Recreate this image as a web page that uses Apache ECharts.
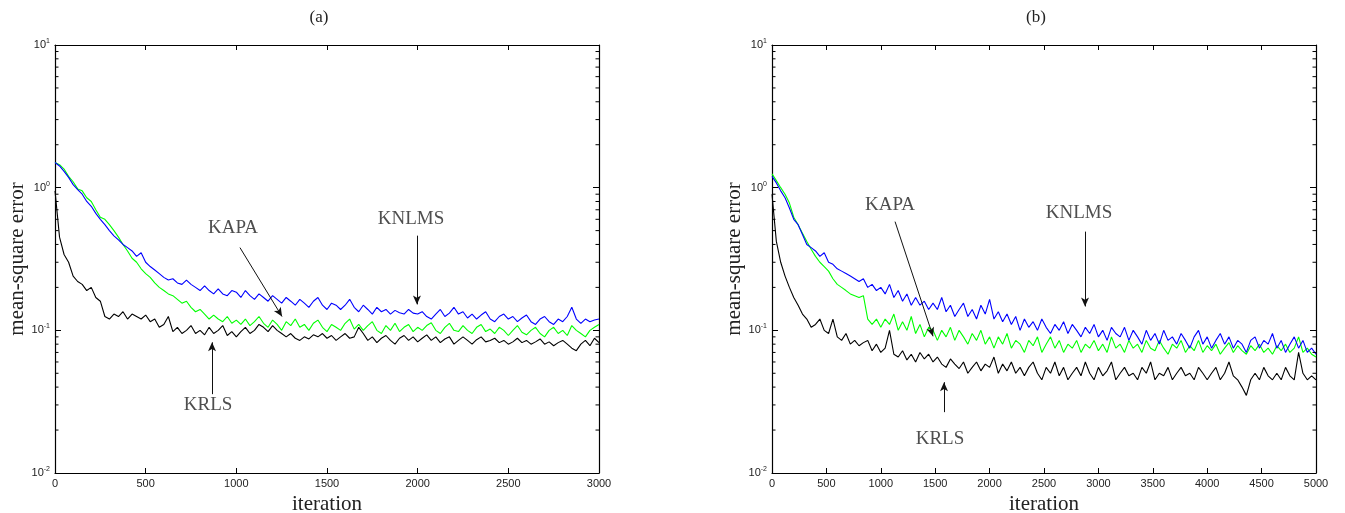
<!DOCTYPE html>
<html>
<head>
<meta charset="utf-8">
<script src="https://cdn.jsdelivr.net/npm/echarts@6/dist/echarts.min.js"></script>
<style>html,body{margin:0;padding:0;background:#fff}#c{width:1345px;height:513px}</style>
</head>
<body>
<div id="c"></div>
<script>
// ---------- data ----------
const STEP_A = 25;   // iteration spacing of samples, panel (a)
const STEP_B = 40;   // iteration spacing of samples, panel (b)
const X_TICKS_A = [0, 500, 1000, 1500, 2000, 2500, 3000];
const X_TICKS_B = [0, 500, 1000, 1500, 2000, 2500, 3000, 3500, 4000, 4500, 5000];
const Y_TICKS = [0.01, 0.1, 1, 10];
const MINOR_TICKS = [0.02,0.03,0.04,0.05,0.06,0.07,0.08,0.09,0.2,0.3,0.4,0.5,0.6,0.7,0.8,0.9,2,3,4,5,6,7,8,9];

const A_KNLMS = [
1.5,1.42,1.3,1.18,1.05,0.97,0.9,0.8,0.74,0.66,
0.6,0.55,0.5,0.46,0.43,0.4,0.38,0.36,0.33,0.35,
0.3,0.28,0.265,0.25,0.235,0.225,0.23,0.215,0.21,0.225,
0.21,0.2,0.19,0.205,0.19,0.18,0.195,0.18,0.175,0.19,
0.185,0.17,0.19,0.175,0.165,0.18,0.17,0.16,0.175,0.165,
0.155,0.17,0.16,0.15,0.165,0.155,0.145,0.16,0.17,0.15,
0.14,0.155,0.15,0.14,0.15,0.165,0.145,0.135,0.15,0.14,
0.13,0.145,0.135,0.14,0.13,0.138,0.133,0.13,0.14,0.132,
0.13,0.135,0.125,0.12,0.13,0.14,0.125,0.132,0.145,0.13,
0.135,0.122,0.13,0.12,0.128,0.135,0.12,0.115,0.125,0.13,
0.12,0.125,0.115,0.122,0.128,0.115,0.11,0.12,0.125,0.115,
0.11,0.12,0.115,0.125,0.145,0.12,0.112,0.12,0.115,0.118,
0.12];
const A_KAPA = [
1.5,1.45,1.35,1.2,1.1,0.98,0.95,0.85,0.8,0.7,
0.62,0.6,0.55,0.5,0.45,0.4,0.36,0.32,0.3,0.27,
0.25,0.235,0.215,0.2,0.19,0.18,0.175,0.165,0.155,0.16,
0.145,0.135,0.14,0.13,0.12,0.128,0.12,0.115,0.125,0.112,
0.118,0.11,0.12,0.108,0.115,0.125,0.112,0.105,0.118,0.11,
0.1,0.115,0.108,0.12,0.105,0.11,0.1,0.112,0.118,0.105,
0.098,0.11,0.105,0.1,0.112,0.12,0.102,0.11,0.1,0.108,
0.115,0.1,0.095,0.108,0.1,0.112,0.098,0.105,0.11,0.098,
0.105,0.1,0.108,0.113,0.1,0.095,0.105,0.112,0.1,0.098,
0.108,0.1,0.095,0.105,0.11,0.098,0.102,0.095,0.105,0.1,
0.092,0.1,0.108,0.097,0.093,0.1,0.105,0.095,0.09,0.1,
0.105,0.095,0.1,0.092,0.108,0.1,0.095,0.09,0.1,0.105,
0.11];
const A_KRLS = [
0.95,0.45,0.34,0.3,0.24,0.22,0.21,0.19,0.2,0.17,
0.16,0.125,0.12,0.13,0.125,0.135,0.12,0.13,0.125,0.12,
0.128,0.115,0.12,0.105,0.11,0.125,0.098,0.105,0.095,0.1,
0.108,0.095,0.1,0.093,0.105,0.095,0.1,0.108,0.092,0.098,
0.09,0.098,0.105,0.095,0.1,0.11,0.105,0.098,0.108,0.1,
0.095,0.09,0.095,0.088,0.085,0.09,0.087,0.093,0.09,0.095,
0.088,0.092,0.085,0.09,0.095,0.088,0.09,0.105,0.095,0.085,
0.09,0.082,0.088,0.092,0.085,0.08,0.088,0.092,0.085,0.09,
0.083,0.088,0.093,0.085,0.09,0.082,0.087,0.09,0.08,0.085,
0.09,0.085,0.08,0.086,0.09,0.083,0.085,0.088,0.082,0.085,
0.08,0.083,0.088,0.082,0.085,0.08,0.083,0.087,0.08,0.083,
0.078,0.082,0.085,0.08,0.075,0.072,0.08,0.085,0.078,0.088,
0.082];

const B_KNLMS = [
1.2,1.08,0.95,0.85,0.72,0.6,0.55,0.47,0.4,0.38,
0.36,0.33,0.35,0.3,0.29,0.27,0.26,0.25,0.24,0.23,
0.22,0.23,0.2,0.21,0.19,0.2,0.18,0.21,0.17,0.19,
0.16,0.18,0.15,0.17,0.15,0.16,0.14,0.155,0.14,0.17,
0.135,0.15,0.125,0.14,0.155,0.125,0.14,0.12,0.15,0.13,
0.165,0.12,0.135,0.115,0.13,0.11,0.125,0.1,0.12,0.105,
0.115,0.1,0.12,0.105,0.095,0.11,0.1,0.115,0.095,0.11,
0.1,0.09,0.105,0.095,0.11,0.09,0.1,0.085,0.105,0.095,
0.09,0.105,0.085,0.1,0.09,0.08,0.1,0.085,0.095,0.08,
0.1,0.085,0.09,0.08,0.095,0.085,0.075,0.09,0.1,0.08,
0.09,0.075,0.085,0.095,0.08,0.09,0.075,0.085,0.08,0.07,
0.085,0.09,0.075,0.085,0.08,0.095,0.075,0.085,0.07,0.08,
0.09,0.075,0.085,0.07,0.075,0.068];
const B_KAPA = [
1.25,1.12,1.0,0.9,0.78,0.62,0.55,0.48,0.42,0.37,
0.33,0.3,0.28,0.26,0.23,0.21,0.2,0.19,0.18,0.175,
0.17,0.175,0.12,0.11,0.12,0.105,0.12,0.11,0.13,0.1,
0.115,0.1,0.125,0.095,0.11,0.09,0.105,0.1,0.085,0.1,
0.09,0.105,0.085,0.1,0.09,0.08,0.095,0.085,0.1,0.08,
0.09,0.075,0.09,0.08,0.095,0.075,0.085,0.08,0.07,0.085,
0.078,0.09,0.07,0.08,0.09,0.075,0.085,0.07,0.08,0.075,
0.085,0.07,0.08,0.075,0.085,0.072,0.08,0.07,0.09,0.075,
0.08,0.07,0.085,0.075,0.08,0.07,0.085,0.075,0.072,0.085,
0.075,0.068,0.08,0.075,0.085,0.07,0.078,0.072,0.085,0.07,
0.078,0.072,0.08,0.068,0.075,0.082,0.07,0.078,0.072,0.068,
0.078,0.072,0.08,0.07,0.075,0.068,0.078,0.072,0.08,0.07,
0.075,0.09,0.07,0.075,0.068,0.065];
const B_KRLS = [
0.9,0.42,0.3,0.24,0.2,0.17,0.15,0.13,0.12,0.105,
0.11,0.12,0.1,0.095,0.12,0.09,0.085,0.095,0.08,0.085,
0.078,0.082,0.085,0.072,0.08,0.07,0.075,0.1,0.068,0.065,
0.072,0.062,0.068,0.06,0.07,0.063,0.068,0.06,0.065,0.058,
0.055,0.063,0.058,0.054,0.06,0.05,0.055,0.06,0.052,0.058,
0.055,0.065,0.05,0.058,0.052,0.06,0.05,0.055,0.048,0.055,
0.06,0.05,0.045,0.055,0.05,0.06,0.048,0.055,0.045,0.05,
0.055,0.048,0.06,0.05,0.045,0.055,0.048,0.052,0.06,0.045,
0.05,0.055,0.048,0.05,0.045,0.055,0.05,0.06,0.045,0.05,
0.048,0.055,0.045,0.05,0.055,0.048,0.05,0.045,0.055,0.05,
0.045,0.05,0.055,0.045,0.05,0.06,0.048,0.045,0.04,0.035,
0.045,0.05,0.045,0.055,0.048,0.045,0.05,0.045,0.055,0.048,
0.045,0.07,0.05,0.045,0.048,0.045];

// annotations (data coordinates): label position, arrow start, arrow end
const ANNOT_A = [
  {name:'KAPA',  at:[982, 0.525], from:[1020, 0.38], to:[1252, 0.125]},
  {name:'KNLMS', at:[1963, 0.607], from:[1996, 0.461], to:[1996, 0.152]},
  {name:'KRLS',  at:[844, 0.0299], from:[866, 0.0357], to:[866, 0.0824]}
];
const ANNOT_B = [
  {name:'KAPA',  at:[1085, 0.76], from:[1131, 0.578], to:[1480, 0.0908]},
  {name:'KNLMS', at:[2822, 0.668], from:[2877, 0.492], to:[2877, 0.147]},
  {name:'KRLS',  at:[1544, 0.0173], from:[1581, 0.0267], to:[1581, 0.0433]}
];

// ---------- chart ----------
const SERIF = '"Liberation Serif", "Times New Roman", serif';
const SANS = '"Liberation Sans", Arial, Helvetica, sans-serif';

function pairs(arr, step){ return arr.map((v,i)=>[i*step, v]); }

function xAxes(gridIndex, max, ticks){
  const common = {
    type:'value', gridIndex, min:0, max, interval: ticks[1]-ticks[0],
    splitLine:{show:false},
    axisLine:{show:true, onZero:false, lineStyle:{color:'#000', width:1.2}},
    axisTick:{show:true, inside:true, length:5, lineStyle:{color:'#000'}}
  };
  return [
    Object.assign({}, common, {position:'bottom',
      name:'iteration', nameLocation:'middle', nameGap:19,
      nameTextStyle:{fontFamily:SERIF, fontSize:21, color:'#222'},
      axisLabel:{show:true, fontFamily:SANS, fontSize:11, color:'#222', margin:5,
        formatter: v => String(v)}}),
    Object.assign({}, common, {position:'top', axisLabel:{show:false}})
  ];
}
function yAxes(gridIndex){
  const common = {
    type:'log', logBase:10, gridIndex, min:0.01, max:10,
    splitLine:{show:false}, minorTick:{show:false},
    axisLine:{show:true, onZero:false, lineStyle:{color:'#000', width:1.2}},
    axisTick:{show:true, inside:true, length:6, lineStyle:{color:'#000'}}
  };
  return [
    Object.assign({}, common, {position:'left',
      name:'mean-square error', nameLocation:'middle', nameGap:25, nameRotate:90,
      nameTextStyle:{fontFamily:SERIF, fontSize:21, color:'#222'},
      axisLabel:{show:true, margin:5,
        formatter: v => '{b|10}{s|' + Math.round(Math.log10(v)) + '}',
        rich:{b:{fontFamily:SANS, fontSize:11, color:'#222'},
              s:{fontFamily:SANS, fontSize:7, color:'#222', padding:[0,0,8,0]}}}}),
    Object.assign({}, common, {position:'right', axisLabel:{show:false}})
  ];
}

function minorTickSeries(xi, yi){
  return {
    type:'custom', xAxisIndex:xi, yAxisIndex:yi, silent:true, clip:false, z:5,
    data: MINOR_TICKS.map(v => [0, v]),
    renderItem: (params, api) => {
      const p = api.coord([api.value(0), api.value(1)]);
      const cs = params.coordSys;
      return {type:'group', children:[
        {type:'line', shape:{x1:cs.x, y1:p[1], x2:cs.x+3.5, y2:p[1]}, style:{stroke:'#000', lineWidth:1}},
        {type:'line', shape:{x1:cs.x+cs.width-3.5, y1:p[1], x2:cs.x+cs.width, y2:p[1]}, style:{stroke:'#000', lineWidth:1}}
      ]};
    }
  };
}

function lineSeries(name, data, color, xi, yi){
  return {type:'line', name, data, xAxisIndex:xi, yAxisIndex:yi, showSymbol:false,
    lineStyle:{color, width:1.1}, itemStyle:{color}, animation:false, z:3};
}

function annotSeries(annots, xi, yi){
  return {
    type:'scatter', xAxisIndex:xi, yAxisIndex:yi, symbolSize:0, silent:true, z:6,
    data: annots.map(a => ({value:a.at, name:a.name})),
    label:{show:true, position:'inside', formatter:'{b}', fontFamily:SERIF, fontSize:19, color:'#222'},
    markLine:{
      silent:true, animation:false, symbol:['none','arrow'], symbolSize:[6,9],
      label:{show:false},
      lineStyle:{color:'#111', width:1, type:'solid'},
      emphasis:{disabled:true},
      data: annots.map(a => [{coord:a.from}, {coord:a.to}])
    }
  };
}

const xa = xAxes(0, 3000, X_TICKS_A);
const xb = xAxes(1, 5000, X_TICKS_B);
const ya = yAxes(0);
const yb = yAxes(1);

const option = {
  animation:false,
  backgroundColor:'#fff',
  title:[
    {text:'(a)', left:314, top:4, textAlign:'center', textStyle:{fontFamily:SERIF, fontSize:17, fontWeight:'normal', color:'#222'}},
    {text:'(b)', left:1031, top:4, textAlign:'center', textStyle:{fontFamily:SERIF, fontSize:17, fontWeight:'normal', color:'#222'}}
  ],
  grid:[
    {left:55, top:45, width:544, height:428, containLabel:false, outerBoundsMode:'none'},
    {left:772, top:45, width:544, height:428, containLabel:false, outerBoundsMode:'none'}
  ],
  xAxis:[xa[0], xa[1], xb[0], xb[1]],
  yAxis:[ya[0], ya[1], yb[0], yb[1]],
  series:[
    lineSeries('KRLS', pairs(A_KRLS, STEP_A), '#000000', 0, 0),
    lineSeries('KAPA', pairs(A_KAPA, STEP_A), '#00ff00', 0, 0),
    lineSeries('KNLMS', pairs(A_KNLMS, STEP_A), '#0000ff', 0, 0),
    lineSeries('KRLS', pairs(B_KRLS, STEP_B), '#000000', 2, 2),
    lineSeries('KAPA', pairs(B_KAPA, STEP_B), '#00ff00', 2, 2),
    lineSeries('KNLMS', pairs(B_KNLMS, STEP_B), '#0000ff', 2, 2),
    minorTickSeries(0, 0),
    minorTickSeries(2, 2),
    annotSeries(ANNOT_A, 0, 0),
    annotSeries(ANNOT_B, 2, 2)
  ]
};

const chart = echarts.init(document.getElementById('c'), null, {renderer:'canvas'});
chart.setOption(option);
</script>
</body>
</html>
